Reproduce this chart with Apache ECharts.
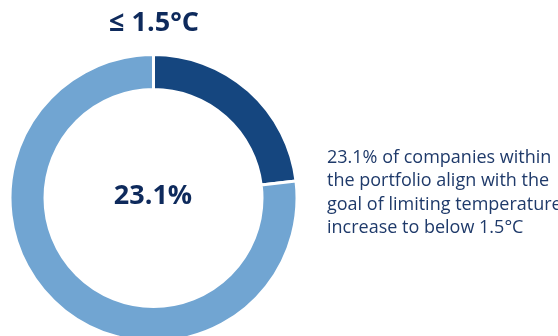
<!DOCTYPE html>
<html><head><meta charset="utf-8">
<script src="https://cdn.jsdelivr.net/npm/echarts@6/dist/echarts.min.js"></script>
<style>html,body{margin:0;padding:0;background:#fff}#c{width:558px;height:336px}</style>
</head><body><div id="c"></div>
<script>
var categories = ['Aligned (≤ 1.5°C)', 'Not aligned'];
var values = [23.1, 76.9];
var colors = ['#15467f', '#71a5d2'];
var titleText = '≤ 1.5°C';
var centerText = '23.1%';
var noteLines = ['23.1% of companies within', 'the portfolio align with the', 'goal of limiting temperature', 'increase to below 1.5°C'];

var chart = echarts.init(document.getElementById('c'));
chart.setOption({
  animation: false,
  title: [{
    text: titleText, left: 149, top: 5, textAlign: 'center',
    textStyle: {fontFamily: 'Open Sans', fontWeight: 'bold', fontSize: 27, color: '#0e2a5c'}
  }, {
    text: centerText, left: 148, top: 178, textAlign: 'center',
    textStyle: {fontFamily: 'Open Sans', fontWeight: 'bold', fontSize: 27, color: '#0e2a5c'}
  }],
  graphic: [{
    type: 'text', left: 327, top: 146,
    style: {text: noteLines.join('\n'), font: '18px "Open Sans"', lineHeight: 23.5, fill: '#1f3a6a'}
  }],
  series: [{
    type: 'pie', center: [153.5, 198], radius: [108.5, 143.5],
    startAngle: 90, clockwise: true, silent: true,
    label: {show: false}, labelLine: {show: false},
    itemStyle: {borderColor: '#fff', borderWidth: 3},
    data: categories.map(function(c, i){ return {name: c, value: values[i], itemStyle: {color: colors[i]}}; })
  }]
});
</script></body></html>
